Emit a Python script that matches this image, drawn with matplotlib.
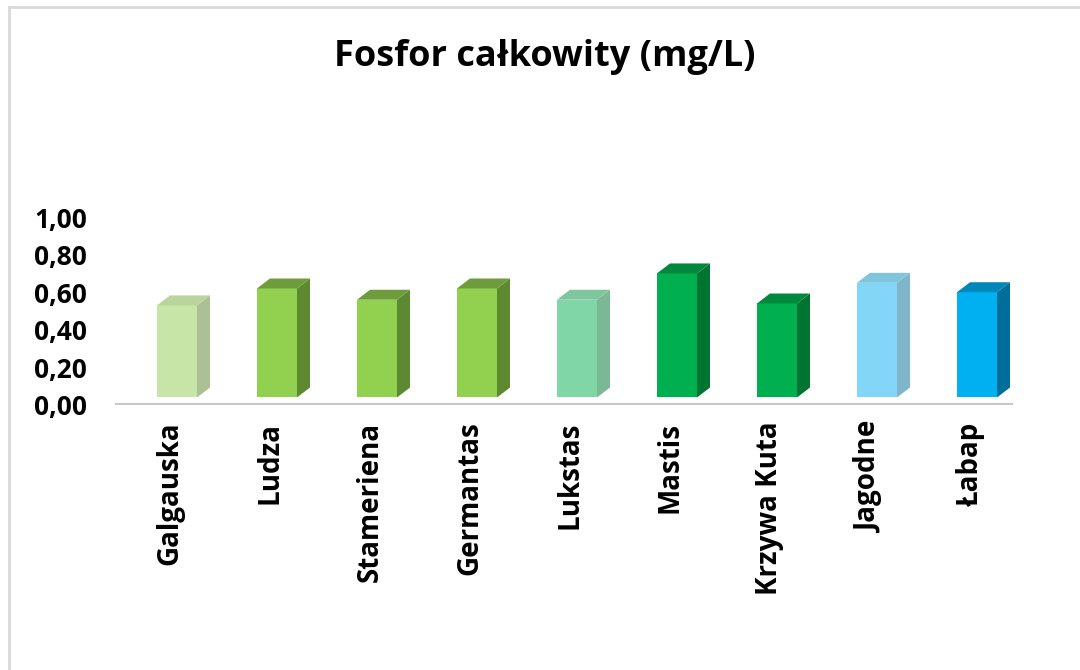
import matplotlib
matplotlib.use('Agg')
import matplotlib.pyplot as plt
from matplotlib.patches import Polygon
from matplotlib.lines import Line2D

plt.rcParams['font.family'] = ['Open Sans', 'DejaVu Sans']

categories = ['Galgauska', 'Ludza', 'Stameriena', 'Germantas', 'Lukstas',
              'Mastis', 'Krzywa Kuta', 'Jagodne', 'Łabap']
values = [0.53, 0.62, 0.56, 0.62, 0.56, 0.70, 0.54, 0.65, 0.60]
front_colors = ['#C6E5A6', '#92D050', '#92D050', '#92D050', '#80D6A6',
                '#00B050', '#00B050', '#83D6F7', '#00B0F0']
side_colors = ['#ABC094', '#5D8A30', '#5D8A30', '#5D8A30', '#7BB894',
               '#007531', '#007531', '#7FB6CA', '#006E9A']
top_colors = ['#B9D59C', '#6E9C3C', '#6E9C3C', '#6E9C3C', '#7EC5A0',
              '#00893D', '#00893D', '#80C4DE', '#0087BA']
yticks = [0.0, 0.2, 0.4, 0.6, 0.8, 1.0]
ytick_labels = ['0,00', '0,20', '0,40', '0,60', '0,80', '1,00']

fig = plt.figure(figsize=(10.8, 6.7), dpi=100)
ax = fig.add_axes([115 / 1080, 265 / 670, 898 / 1080, 188 / 670])
ax.set_xlim(-0.55, 8.43)
ax.set_ylim(0, 1.0)

base = 0.04      # floor offset of the 3D bars
w = 0.40         # front face width
x0 = -0.13       # front face left edge relative to category position
dx = 0.13        # depth, x
dy = 0.053       # depth, y

for i, v in enumerate(values):
    l = i + x0
    r = l + w
    front = Polygon([(l, base), (r, base), (r, v), (l, v)], closed=True,
                    facecolor=front_colors[i], edgecolor='none', zorder=3)
    side = Polygon([(r, base), (r + dx, base + dy), (r + dx, v + dy), (r, v)],
                   closed=True, facecolor=side_colors[i], edgecolor='none', zorder=3)
    top = Polygon([(l, v), (r, v), (r + dx, v + dy), (l + dx, v + dy)],
                  closed=True, facecolor=top_colors[i], edgecolor='none', zorder=3)
    for p in (front, side, top):
        ax.add_patch(p)

ax.axhline(0, color='#C8C8C8', lw=3, zorder=2, solid_capstyle='round')

for s in ax.spines.values():
    s.set_visible(False)
ax.set_yticks(yticks)
ax.set_yticklabels(ytick_labels, fontsize=19, fontweight='bold')
ax.tick_params(axis='y', length=0, pad=20)
ax.set_xticks(range(len(categories)))
ax.set_xticklabels(categories, rotation=90, fontsize=20, fontweight='bold',
                   va='top', ha='center')
ax.tick_params(axis='x', length=0, pad=12)

fig.text(545 / 1080, 1 - 57 / 670, 'Fosfor całkowity (mg/L)', ha='center',
         va='center', fontsize=26, fontweight='bold')

# chart border
fig.add_artist(Line2D([9 / 1080, 9 / 1080], [0, 1 - 7 / 670],
                      transform=fig.transFigure, color='#D9D9D9', lw=2))
fig.add_artist(Line2D([9 / 1080, 1], [1 - 7 / 670, 1 - 7 / 670],
                      transform=fig.transFigure, color='#D9D9D9', lw=2))

fig.savefig('out.png', dpi=100)
